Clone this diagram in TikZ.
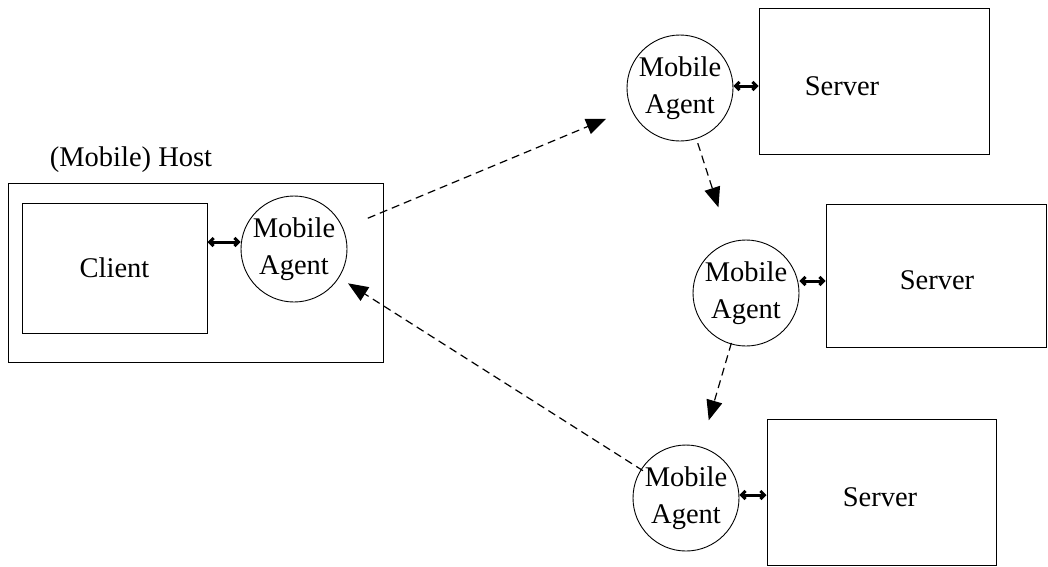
\documentclass[tikz,border=0pt]{standalone}
\usepackage{fontspec}
\setmainfont{Liberation Serif}
\usetikzlibrary{arrows.meta}
\tikzset{
  box/.style={draw, line width=1pt, inner sep=0pt},
  agent/.style={draw, circle, line width=0.9pt, minimum size=106pt, inner sep=0pt,
    align=center, font=\fontsize{28.5}{37}\selectfont},
  label/.style={font=\fontsize{28.5}{32}\selectfont},
  link/.style={line width=3pt, {Straight Barb[length=4pt,width=8pt]}-{Straight Barb[length=4pt,width=8pt]}},
  hop/.style={dashed, dash pattern=on 8pt off 5pt, line width=1.2pt, -{Triangle[length=20pt,width=16pt]}}
}
\begin{document}
\begin{tikzpicture}[x=1pt,y=-1pt]
\useasboundingbox (0,0) rectangle (1048,566);
% host with client and its agent
\node[box, minimum width=375pt, minimum height=179pt] (host) at (195.5,272.5) {};
\node[label] (hostlabel) at (131,160) {(Mobile) Host};
\node[box, minimum width=185pt, minimum height=130pt, label] (client) at (114.5,268) {Client};
\node[agent] (ha) at (294,249) {Mobile\\Agent};
% servers with their agents
\node[agent] (a1) at (680,88) {Mobile\\Agent};
\node[box, minimum width=230pt, minimum height=146pt, label] (s1) at (874,81) {};
\node[label] (s1t) at (842,86) {Server};
\node[agent] (a2) at (746,293) {Mobile\\Agent};
\node[box, minimum width=220pt, minimum height=143pt, label] (s2) at (936,275.5) {};
\node[label] (s2t) at (937,280) {Server};
\node[agent] (a3) at (686,498) {Mobile\\Agent};
\node[box, minimum width=229pt, minimum height=146pt, label] (s3) at (881.5,492) {};
\node[label] (s3t) at (880,497) {Server};
% local interaction
\draw[link] (client.east |- 0,242) -- (ha.west |- 0,242);
\draw[link] (a1.east |- 0,86) -- (s1.west |- 0,86);
\draw[link] (a2.east |- 0,281) -- (s2.west |- 0,281);
\draw[link] (a3.east |- 0,495) -- (s3.west |- 0,495);
% migration route
\draw[hop, shorten <=80pt, shorten >=80pt] (ha.center) -- (a1.center);
\draw[hop, shorten <=58pt, shorten >=90pt] (a1.center) -- (a2.center);
\draw[hop, shorten <=52pt, shorten >=81pt] (a2.center) -- (a3.center);
\draw[hop, shorten <=51pt, shorten >=64pt] (a3.center) -- (ha.center);
\end{tikzpicture}
\end{document}
